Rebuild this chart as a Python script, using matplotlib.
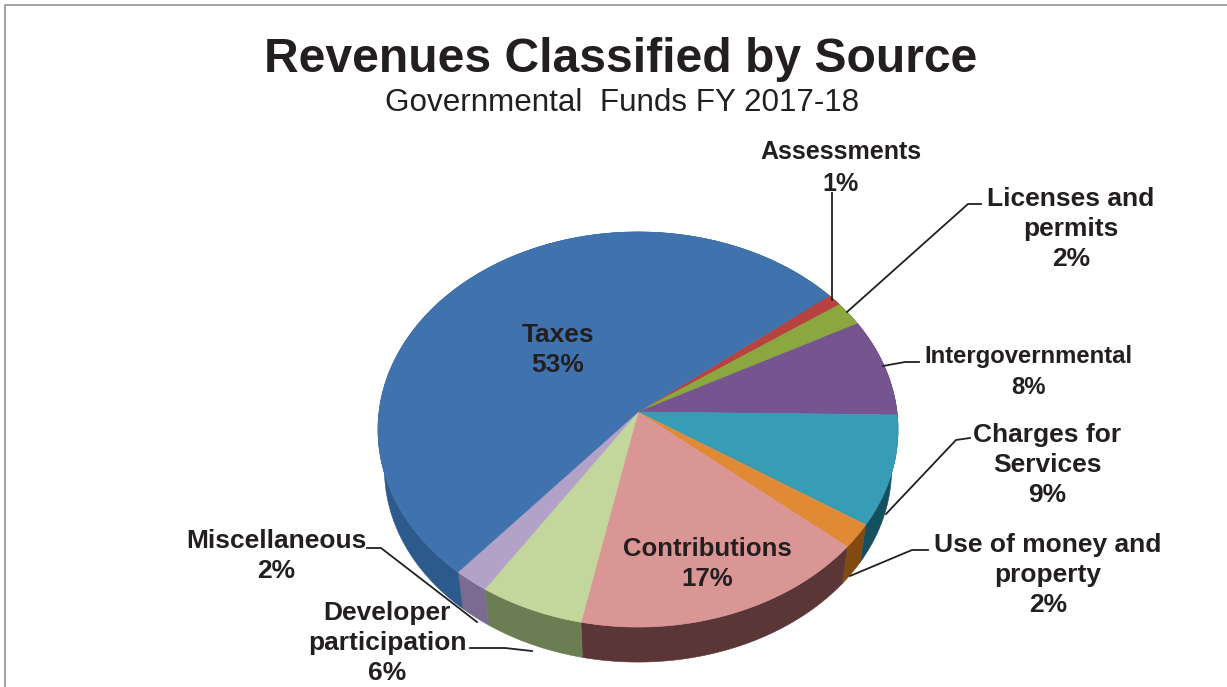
import numpy as np
import matplotlib.pyplot as plt

plt.rcParams['font.family'] = ['Liberation Sans', 'DejaVu Sans']

# Revenue shares in percent, clockwise from the top right
sources = ['Assessments', 'Licenses and\npermits', 'Intergovernmental', 'Charges for\nServices',
           'Use of money and\nproperty', 'Contributions', 'Developer\nparticipation', 'Miscellaneous', 'Taxes']
shares = [1, 2, 8, 9, 2, 17, 6, 2, 53]

top_colors = ['#b8423f', '#8aa83f', '#75548f', '#379cb5', '#e08a36', '#d99694', '#c3d69b', '#b3a2c7', '#4073ae']
side_colors = ['#6e2725', '#55682a', '#46325a', '#14505f', '#824a10', '#5a3636', '#6b7d52', '#7b6b90', '#2d5a8c']

# Label centres in pixels, with a size per label
label_x = [841, 1071, 1028, 1047, 1048, 707, 387, 276, 558]
label_y = [168, 229, 372, 465, 575, 564, 643, 556, 350]
label_size = [18, 19, 17.2, 19, 19, 18.5, 19, 19, 19]

# Leader lines in pixels, one polyline per label
leaders = [
    [(832, 193), (832, 300)],
    [(981, 204), (968, 204), (847, 312)],
    [(919, 362), (905, 362), (883, 366)],
    [(970, 438), (956, 440), (886, 514)],
    [(928, 550), (912, 550), (850, 576)],
    [(367, 548), (381, 548), (477, 622)],
    [(470, 648), (505, 648), (532, 651)],
]

# Tilted disc geometry
apex_x, apex_y = 638, 412
scale_x, scale_y = 259, 196
persp = 0.0886
base_scale = 0.975
base_drop = 40.4
start_angle = 38.8


def rim(theta):
    # perspective projection of the unit circle, theta in degrees
    t = np.radians(theta)
    w = 1 + persp * np.sin(t)
    return apex_x + scale_x * np.cos(t) / w, apex_y - scale_y * np.sin(t) / w


def base_rim(theta):
    # lower edge of the wall, slightly smaller than the top
    x, y = rim(theta)
    return apex_x + (x - apex_x) * base_scale, apex_y + (y - apex_y) * base_scale + base_drop


fig = plt.figure(figsize=(12.27, 6.87), dpi=100, facecolor='white')
ax = fig.add_axes([0, 0, 1, 1])
ax.set_xlim(0, 1227)
ax.set_ylim(687, 0)
ax.axis('off')

# Frame, only top and left show
ax.plot([4.5, 4.5, 1227], [687, 4.5, 4.5], color='#9a9a9a', lw=1.3, zorder=1)

edges = start_angle - np.cumsum([0] + shares) * 3.6

# Walls first so the top surface covers the hidden half
for i in range(len(shares)):
    theta = np.linspace(edges[i], edges[i + 1], max(6, int(shares[i] * 8)))
    x0, y0 = rim(theta)
    x1, y1 = base_rim(theta)
    ax.fill(np.r_[x0, x1[::-1]], np.r_[y0, y1[::-1]], color=side_colors[i], lw=0.4, zorder=2)

# Top surface
for i in range(len(shares)):
    theta = np.linspace(edges[i], edges[i + 1], max(6, int(shares[i] * 8)))
    x, y = rim(theta)
    ax.fill(np.r_[apex_x, x], np.r_[apex_y, y], color=top_colors[i], lw=0.4, zorder=3)

for line in leaders:
    xs, ys = zip(*line)
    ax.plot(xs, ys, color='#231f20', lw=1.3, zorder=4)

ax.text(621, 60, 'Revenues Classified by Source', fontsize=34.6, fontweight='bold',
        color='#231f20', ha='center', va='center')
ax.text(622, 103, 'Governmental  Funds FY 2017-18', fontsize=22.6,
        color='#231f20', ha='center', va='center')

# Same line pitch for every label, whatever its size
for name, share, lx, ly, size in zip(sources, shares, label_x, label_y, label_size):
    ax.text(lx, ly, f'{name}\n{share}%', fontsize=size, fontweight='bold', color='#231f20',
            ha='center', va='center', linespacing=25 / size, zorder=5)

plt.savefig('out.png', dpi=100)
